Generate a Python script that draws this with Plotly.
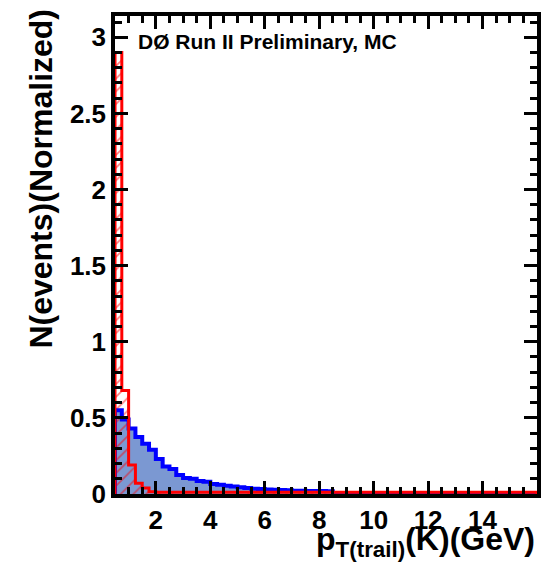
import plotly.graph_objects as go

# Histogram binning
bin_lo = 0.5
bin_width = 0.25
n_bins = 62

# Signal-like (blue, filled) histogram values, normalized
blue_vals = [0.55, 0.49, 0.43, 0.375, 0.33, 0.29, 0.23, 0.18, 0.165, 0.125,
             0.105, 0.10, 0.085, 0.08, 0.065, 0.06, 0.055, 0.05, 0.045, 0.04,
             0.035, 0.033, 0.03, 0.028, 0.026, 0.024, 0.022, 0.021, 0.02, 0.02,
             0.019, 0.018, 0.006, 0.005, 0.005, 0.005, 0.004, 0.004, 0.004, 0.004,
             0.003, 0.003, 0.003, 0.003, 0.003, 0.003, 0.003, 0.003, 0.002, 0.002,
             0.002, 0.002, 0.002, 0.002, 0.002, 0.002, 0.002, 0.002, 0.002, 0.002,
             0.002, 0.002]

# Background-like (red, hatched) histogram values, normalized
red_vals = [2.9, 0.68, 0.19, 0.07, 0.04, 0.015] + [0.011] * 56

x_tick_vals = [2, 4, 6, 8, 10, 12, 14]
x_tick_text = ["2", "4", "6", "8", "10", "12", "14"]

edges = [bin_lo + i * bin_width for i in range(n_bins + 1)]
centers = [bin_lo + (i + 0.5) * bin_width for i in range(n_bins)]


def step_xy(vals):
    xs = [edges[0]] + edges[:n_bins] + [edges[n_bins], edges[n_bins]]
    ys = [0] + list(vals) + [vals[-1], 0]
    return xs, ys


fig = go.Figure()

# blue fill
fig.add_trace(go.Bar(x=centers, y=blue_vals, width=bin_width,
                     marker=dict(color="#7b98d2", line=dict(width=0)),
                     showlegend=False, hoverinfo="skip"))
# red hatch
fig.add_trace(go.Bar(x=centers, y=red_vals, width=bin_width,
                     marker=dict(color="rgba(0,0,0,0)", line=dict(width=0),
                                 pattern=dict(shape="/", fgcolor="#ff0000",
                                              bgcolor="rgba(0,0,0,0)",
                                              size=9, solidity=0.18,
                                              fillmode="overlay")),
                     showlegend=False, hoverinfo="skip"))
bx, by = step_xy(blue_vals)
fig.add_trace(go.Scatter(x=bx, y=by, mode="lines", line_shape="hv",
                         line=dict(color="#0000ff", width=4),
                         showlegend=False, hoverinfo="skip"))
rx, ry = step_xy(red_vals)
fig.add_trace(go.Scatter(x=rx, y=ry, mode="lines", line_shape="hv",
                         line=dict(color="#ff0000", width=3),
                         showlegend=False, hoverinfo="skip"))
# empty trace that carries the minor-tick overlay axes
fig.add_trace(go.Scatter(x=[], y=[], xaxis="x2", yaxis="y2", mode="lines",
                         showlegend=False, hoverinfo="skip"))

tick_font = dict(family="Liberation Sans", size=26, color="black", weight="bold")

fig.update_layout(
    width=553, height=566,
    margin=dict(l=115, r=12, t=12, b=72),
    paper_bgcolor="white", plot_bgcolor="white",
    barmode="overlay", bargap=0,
    xaxis=dict(range=[0.5, 16], tickmode="array", tickvals=x_tick_vals,
               ticktext=x_tick_text, ticks="inside", ticklen=13, tickwidth=3,
               tickcolor="black", showline=True, linecolor="black", linewidth=3.5,
               mirror="ticks", showgrid=False, zeroline=False, layer="above traces",
               tickfont=tick_font),
    yaxis=dict(range=[0, 3.14], tickmode="linear", dtick=0.5, tick0=0,
               ticks="inside", ticklen=13, layer="above traces",
               tickwidth=3, tickcolor="black", showline=True, linecolor="black",
               linewidth=3.5, mirror="ticks", showgrid=False, zeroline=False,
               tickfont=tick_font),
    xaxis2=dict(overlaying="x", anchor="y2", side="bottom", range=[0.5, 16],
                tickmode="linear", dtick=0.5, tick0=0, ticks="inside", ticklen=7,
                tickwidth=3, tickcolor="black", showticklabels=False,
                showline=False, mirror="ticks", showgrid=False, zeroline=False,
                layer="above traces"),
    yaxis2=dict(overlaying="y", anchor="x2", side="left", range=[0, 3.14],
                tickmode="linear", dtick=0.1, tick0=0, ticks="inside", ticklen=7,
                tickwidth=3, tickcolor="black", showticklabels=False,
                showline=False, mirror="ticks", showgrid=False, zeroline=False,
                layer="above traces"),
    annotations=[
        dict(text="DØ Run II Preliminary, MC", xref="paper", yref="paper",
             x=0.05, y=0.946, xanchor="left", yanchor="middle", showarrow=False,
             font=dict(family="Liberation Sans", size=21, color="black", weight="bold")),
        dict(text="p<sub>T(trail)</sub>(K)(GeV)", xref="paper", yref="paper",
             x=1.0, y=-0.147, xanchor="right", yanchor="bottom", showarrow=False,
             font=dict(family="Liberation Sans", size=32, color="black", weight="bold")),
        dict(text="N(events)(Normalized)", xref="paper", yref="paper",
             x=-0.175, y=1.02, xanchor="center", yanchor="top", textangle=-90,
             showarrow=False,
             font=dict(family="Liberation Sans", size=32, color="black", weight="bold")),
    ],
)

fig.write_html("out.html")
